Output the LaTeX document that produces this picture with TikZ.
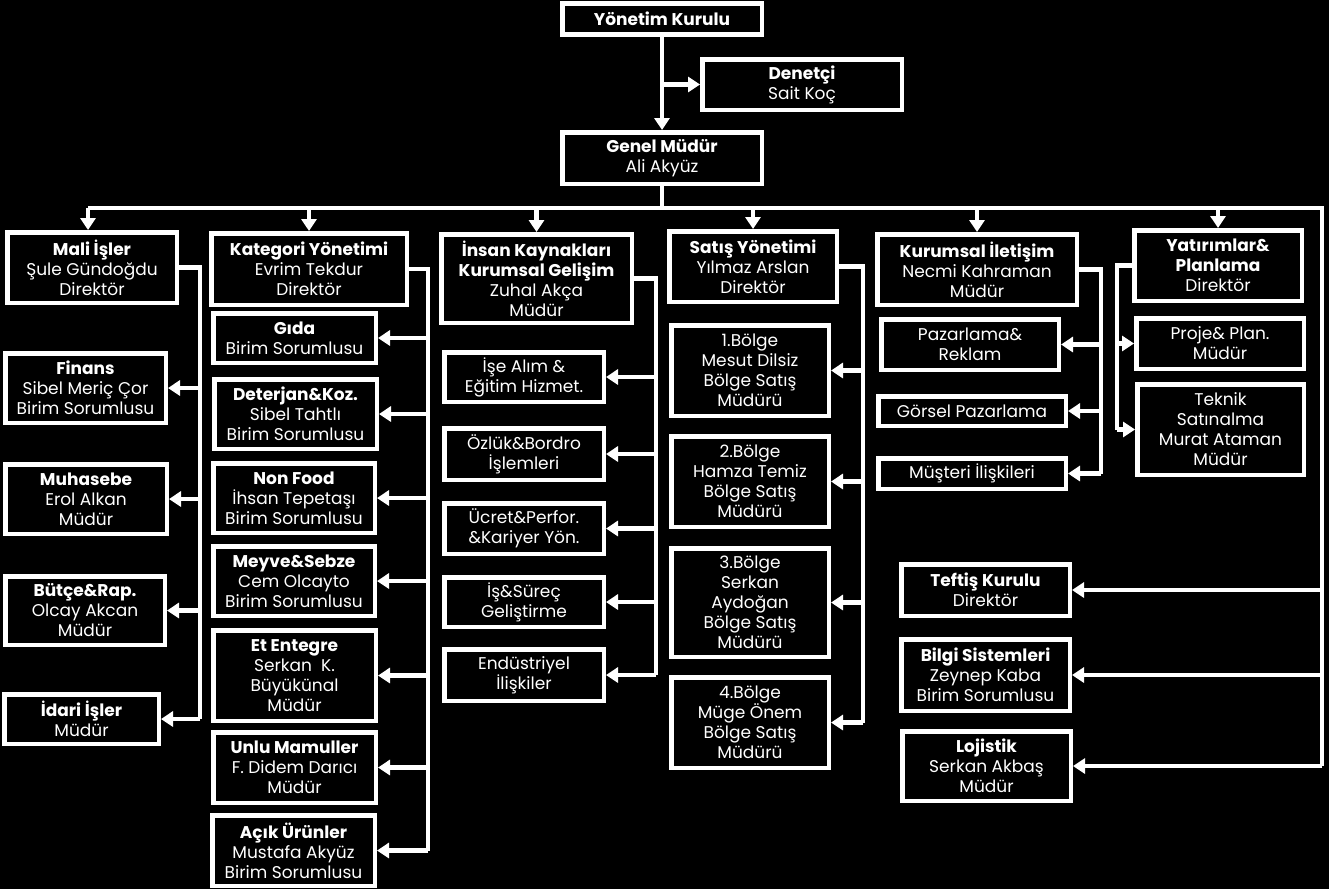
\documentclass[tikz,border=0pt]{standalone}
\usepackage{fontspec}
\setmainfont{Poppins}
\usetikzlibrary{arrows.meta}
\tikzset{
  box/.style={draw=white, line width=4.5pt, fill=black, text=white, align=center,
    inner sep=0pt, font=\fontsize{17}{20}\selectfont},
  ln/.style={draw=white, line width=4.5pt, line join=miter},
  arr/.style={ln, -{Triangle[length=12pt,width=15pt]}},
}
\newcommand{\hd}[1]{{\bfseries #1}}
\begin{document}
\begin{tikzpicture}[x=1pt,y=-1pt]
\fill[black] (0,0) rectangle (1329,889);
\useasboundingbox (0,0) rectangle (1329,889);

% top
\node[box, minimum width=199.5, minimum height=31] (yk) at (662,19) {\hd{Yönetim Kurulu}};
\node[box, minimum width=199.5, minimum height=50.5] (den) at (802,84.5) {\hd{Denetçi}\\Sait Koç};
\node[box, minimum width=199.5, minimum height=51.5] (gm) at (662,158) {\hd{Genel Müdür}\\Ali Akyüz};

% level 2
\node[box, minimum width=169.5, minimum height=70.5] (mali) at (92,267.5) {\hd{Mali İşler}\\Şule Gündoğdu\\Direktör};
\node[box, minimum width=195.5, minimum height=71.5] (kat) at (309,269) {\hd{Kategori Yönetimi}\\Evrim Tekdur\\Direktör};
\node[box, minimum width=190.5, minimum height=88.5] (ik) at (536.5,278.5) {\hd{İnsan Kaynakları}\\\hd{Kurumsal Gelişim}\\Zuhal Akça\\Müdür};
\node[box, minimum width=167.5, minimum height=70.5] (sat) at (753,266.5) {\hd{Satış Yönetimi}\\Yılmaz Arslan\\Direktör};
\node[box, minimum width=199.5, minimum height=70.5] (ki) at (977,269.5) {\hd{Kurumsal İletişim}\\Necmi Kahraman\\Müdür};
\node[box, minimum width=167.5, minimum height=70.5] (yat) at (1218,265.5) {\hd{Yatırımlar\&}\\\hd{Planlama}\\Direktör};

% mali children
\node[box, minimum width=160.5, minimum height=69.5] (fin) at (85.5,388) {\hd{Finans}\\Sibel Meriç Çor\\Birim Sorumlusu};
\node[box, minimum width=161.5, minimum height=69.5] (muh) at (86,499) {\hd{Muhasebe}\\Erol Alkan\\Müdür};
\node[box, minimum width=159.5, minimum height=68.5] (but) at (85,610.5) {\hd{Bütçe\&Rap.}\\Olcay Akcan\\Müdür};
\node[box, minimum width=154.5, minimum height=49.5] (ida) at (81.5,719) {\hd{İdari İşler}\\Müdür};

% kategori children
\node[box, minimum width=162.5, minimum height=49.5] (gida) at (294.5,338) {\hd{Gıda}\\Birim Sorumlusu};
\node[box, minimum width=162.5, minimum height=69.5] (det) at (295.5,414) {\hd{Deterjan\&Koz.}\\Sibel Tahtlı\\Birim Sorumlusu};
\node[box, minimum width=161.5, minimum height=69.5] (nf) at (294,498) {\hd{Non Food}\\İhsan Tepetaşı\\Birim Sorumlusu};
\node[box, minimum width=161.5, minimum height=69.5] (mey) at (294,581) {\hd{Meyve\&Sebze}\\Cem Olcayto\\Birim Sorumlusu};
\node[box, minimum width=162.5, minimum height=90.5] (et) at (294.5,675.5) {\hd{Et Entegre}\\Serkan\ \ K.\\Büyükünal\\Müdür};
\node[box, minimum width=162.5, minimum height=70.5] (unlu) at (294.5,767.5) {\hd{Unlu Mamuller}\\F. Didem Darıcı\\Müdür};
\node[box, minimum width=162.5, minimum height=70.5] (acik) at (293.5,850.5) {\hd{Açık Ürünler}\\Mustafa Akyüz\\Birim Sorumlusu};

% ik children
\node[box, minimum width=159.5, minimum height=49.5] (ise) at (524,377) {İşe Alım \&\\Eğitim Hizmet.};
\node[box, minimum width=159.5, minimum height=51.5] (ozl) at (524,454) {Özlük\&Bordro\\İşlemleri};
\node[box, minimum width=159.5, minimum height=50.5] (ucr) at (524,528.5) {Ücret\&Perfor.\\\&Kariyer Yön.};
\node[box, minimum width=159.5, minimum height=49.5] (sur) at (524,602) {İş\&Süreç\\Geliştirme};
\node[box, minimum width=159.5, minimum height=51.5] (end) at (524,675) {Endüstriyel\\İlişkiler};

% satis children
\node[box, minimum width=157.5, minimum height=90.5] (b1) at (750,370.5) {1.Bölge\\Mesut Dilsiz\\Bölge Satış\\Müdürü};
\node[box, minimum width=157.5, minimum height=90.5] (b2) at (750,481.5) {2.Bölge\\Hamza Temiz\\Bölge Satış\\Müdürü};
\node[box, minimum width=157.5, minimum height=108.5] (b3) at (750,602.5) {3.Bölge\\Serkan\\Aydoğan\\Bölge Satış\\Müdürü};
\node[box, minimum width=157.5, minimum height=90.5] (b4) at (750,722.5) {4.Bölge\\Müge Önem\\Bölge Satış\\Müdürü};

% ki children
\node[box, minimum width=177.5, minimum height=50.5] (paz) at (970,344.5) {Pazarlama\&\\Reklam};
\node[box, minimum width=187.5, minimum height=29.5] (gor) at (972,411) {Görsel Pazarlama};
\node[box, minimum width=187.5, minimum height=30.5] (mus) at (972,473.5) {Müşteri İlişkileri};

% yat children
\node[box, minimum width=167.5, minimum height=50.5] (pro) at (1220,343.5) {Proje\& Plan.\\Müdür};
\node[box, minimum width=166.5, minimum height=90.5] (tek) at (1220.5,429.5) {Teknik\\Satınalma\\Murat Ataman\\Müdür};

% right column
\node[box, minimum width=168.5, minimum height=51.5] (tef) at (985.5,590) {\hd{Teftiş Kurulu}\\Direktör};
\node[box, minimum width=168.5, minimum height=71.5] (bil) at (985.5,675) {\hd{Bilgi Sistemleri}\\Zeynep Kaba\\Birim Sorumlusu};
\node[box, minimum width=168.5, minimum height=69.5] (loj) at (986.5,766) {\hd{Lojistik}\\Serkan Akbaş\\Müdür};

% top connectors
\draw[arr] (yk.south) -- (yk.south |- gm.north);
\draw[arr] (yk.south |- den.west) -- (den.west);

% main bus
\coordinate (busL) at (88,208);
\coordinate (busR) at (1322,208);
\draw[ln] (gm.south) -- (gm.south |- busL);
\draw[ln] (busL) -- (busR) -- (busR |- loj.east);
\draw[arr] (busL) -- (busL |- mali.north);
\draw[arr] (kat.north |- busL) -- (kat.north);
\draw[arr] (ik.north |- busL) -- (ik.north);
\draw[arr] (sat.north |- busL) -- (sat.north);
\draw[arr] (ki.north |- busL) -- (ki.north);
\draw[arr] (yat.north |- busL) -- (yat.north);
\draw[arr] (busR |- tef.east) -- (tef.east);
\draw[arr] (busR |- bil.east) -- (bil.east);
\draw[arr] (busR |- loj.east) -- (loj.east);

% mali branch
\coordinate (mv) at (200,267.5);
\draw[ln] (mali.east) -- (mv) -- (mv |- ida.east);
\foreach \n in {fin,muh,but,ida} \draw[arr] (mv |- \n.east) -- (\n.east);

% kategori branch
\coordinate (kv) at (428,269);
\draw[ln] (kat.east) -- (kv) -- (kv |- acik.east);
\foreach \n in {gida,det,nf,mey,et,unlu,acik} \draw[arr] (kv |- \n.east) -- (\n.east);

% ik branch
\coordinate (iv) at (656,278.5);
\draw[ln] (ik.east) -- (iv) -- (iv |- end.east);
\foreach \n in {ise,ozl,ucr,sur,end} \draw[arr] (iv |- \n.east) -- (\n.east);

% satis branch
\coordinate (sv) at (863,266.5);
\draw[ln] (sat.east) -- (sv) -- (sv |- b4.east);
\foreach \n in {b1,b2,b3,b4} \draw[arr] (sv |- \n.east) -- (\n.east);

% ki branch
\coordinate (kiv) at (1101,269.5);
\draw[ln] (ki.east) -- (kiv) -- (kiv |- mus.east);
\foreach \n in {paz,gor,mus} \draw[arr] (kiv |- \n.east) -- (\n.east);

% yat branch
\coordinate (yv) at (1117,265.5);
\draw[ln] (yat.west) -- (yv) -- (yv |- tek.west);
\foreach \n in {pro,tek} \draw[arr] (yv |- \n.west) -- (\n.west);
\end{tikzpicture}
\end{document}
